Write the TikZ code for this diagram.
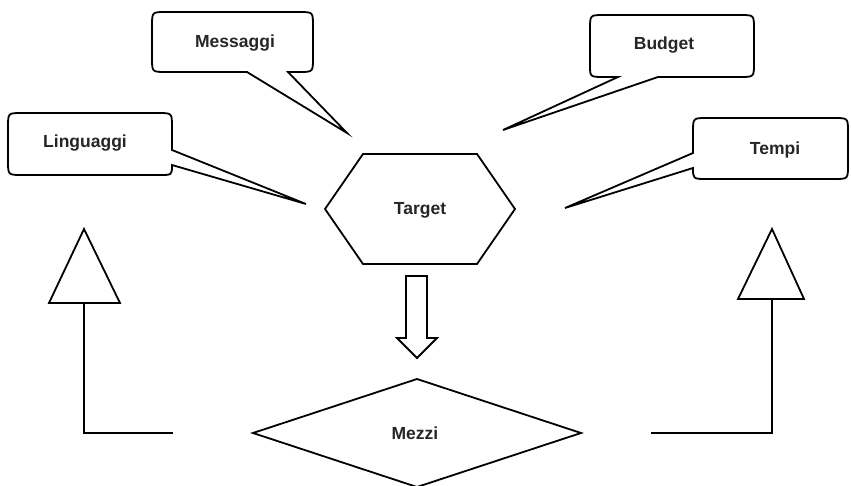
\documentclass[tikz,border=0pt]{standalone}
\usepackage{fontspec}
\setmainfont{Liberation Sans}
\begin{document}
\begin{tikzpicture}[x=1pt,y=-1pt,line width=1.8pt,line join=miter,
  lbl/.style={font=\bfseries\fontsize{17.5}{20}\selectfont,inner sep=0pt,text=black!85}]
\useasboundingbox (0,0) rectangle (851,486);
% callout bubbles
\draw (247,72) -- (347,133) -- (288,72) -- (299,72) .. controls (313,72) .. (313,58) -- (313,26) .. controls (313,12) .. (299,12) -- (166,12) .. controls (152,12) .. (152,26) -- (152,58) .. controls (152,72) .. (166,72) -- cycle;
\node[lbl] (mess) at (235,43) {Messaggi};
\draw (172,150) -- (306,204) -- (172,165) .. controls (172,175) .. (160,175) -- (22,175) .. controls (8,175) .. (8,161) -- (8,127) .. controls (8,113) .. (22,113) -- (158,113) .. controls (172,113) .. (172,127) -- cycle;
\node[lbl] (ling) at (85,143) {Linguaggi};
\draw (618,77) -- (503,130) -- (658,77) -- (740,77) .. controls (754,77) .. (754,63) -- (754,29) .. controls (754,15) .. (740,15) -- (604,15) .. controls (590,15) .. (590,29) -- (590,65) .. controls (590,77) .. (604,77) -- cycle;
\node[lbl] (budg) at (664,45) {Budget};
\draw (693,153) -- (565,208) -- (693,168) .. controls (693,179) .. (707,179) -- (834,179) .. controls (848,179) .. (848,165) -- (848,132) .. controls (848,118) .. (834,118) -- (707,118) .. controls (693,118) .. (693,132) -- cycle;
\node[lbl] (temp) at (775,150) {Tempi};
% target hexagon
\draw (325,209) -- (363,154) -- (477,154) -- (515,209) -- (477,264) -- (363,264) -- cycle;
\node[lbl] (targ) at (420,210) {Target};
% block arrow down
\draw (406,276) -- (427,276) -- (427,338) -- (437,338) -- (417,358) -- (397,338) -- (406,338) -- cycle;
% mezzi diamond
\draw (417,379) -- (581,433) -- (417,487) -- (253,433) -- cycle;
\node[lbl] (mezz) at (415,433) {Mezzi};
% side arrows
\coordinate (lend) at (173,433);
\coordinate (lcorn) at (84,433);
\coordinate (lbase) at (84,303);
\draw (lend) -- (lcorn) -- (lbase);
\draw (84,229) -- (120,303) -- (49,303) -- cycle;
\coordinate (rend) at (651,433);
\coordinate (rcorn) at (772,433);
\coordinate (rbase) at (772,299);
\draw (rend) -- (rcorn) -- (rbase);
\draw (772,229) -- (804,299) -- (738,299) -- cycle;
\end{tikzpicture}
\end{document}
